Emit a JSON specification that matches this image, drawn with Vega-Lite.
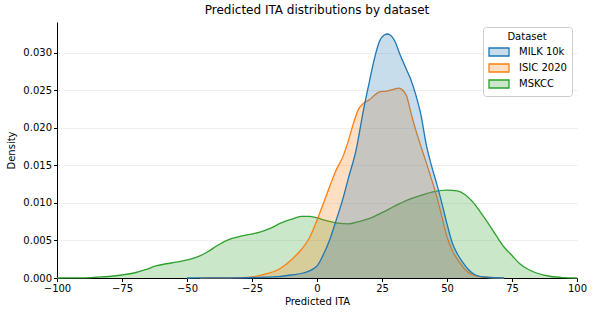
{
  "$schema": "https://vega.github.io/schema/vega-lite/v6.json",
  "autosize": {"type": "none"},
  "width": 520,
  "height": 256,
  "padding": {"left": 57, "top": 22, "right": 18, "bottom": 39},
  "background": "white",
  "title": {"text": "Predicted ITA distributions by dataset", "font": "DejaVu Sans", "fontSize": 12, "fontWeight": "normal", "color": "black", "offset": 5},
  "config": {
    "font": "DejaVu Sans",
    "view": {"stroke": null},
    "axis": {"labelFont": "DejaVu Sans", "labelFontSize": 10, "labelColor": "black", "titleFont": "DejaVu Sans", "titleFontSize": 10, "titleFontWeight": "normal", "titleColor": "black", "domainColor": "black", "tickColor": "black", "tickSize": 3.5, "labelPadding": 2, "domainWidth": 1, "tickWidth": 1, "labelFlush": false, "labelOverlap": false, "labelBound": false}
  },
  "data": {"values": [
    {"dataset": "MILK 10k", "ita": -50, "density": 0.0},
    {"dataset": "MILK 10k", "ita": -40, "density": 0.00001},
    {"dataset": "MILK 10k", "ita": -30, "density": 0.00003},
    {"dataset": "MILK 10k", "ita": -20, "density": 0.0001},
    {"dataset": "MILK 10k", "ita": -15, "density": 0.00018},
    {"dataset": "MILK 10k", "ita": -10, "density": 0.0004},
    {"dataset": "MILK 10k", "ita": -5, "density": 0.0007},
    {"dataset": "MILK 10k", "ita": 0, "density": 0.0016},
    {"dataset": "MILK 10k", "ita": 2, "density": 0.0028},
    {"dataset": "MILK 10k", "ita": 5, "density": 0.0052},
    {"dataset": "MILK 10k", "ita": 7, "density": 0.0073},
    {"dataset": "MILK 10k", "ita": 10, "density": 0.0106},
    {"dataset": "MILK 10k", "ita": 12, "density": 0.0132},
    {"dataset": "MILK 10k", "ita": 15, "density": 0.0170},
    {"dataset": "MILK 10k", "ita": 18, "density": 0.0226},
    {"dataset": "MILK 10k", "ita": 20, "density": 0.0259},
    {"dataset": "MILK 10k", "ita": 22, "density": 0.0291},
    {"dataset": "MILK 10k", "ita": 24, "density": 0.0315},
    {"dataset": "MILK 10k", "ita": 26, "density": 0.0324},
    {"dataset": "MILK 10k", "ita": 27, "density": 0.0325},
    {"dataset": "MILK 10k", "ita": 28, "density": 0.0324},
    {"dataset": "MILK 10k", "ita": 30, "density": 0.0315},
    {"dataset": "MILK 10k", "ita": 32, "density": 0.0297},
    {"dataset": "MILK 10k", "ita": 34, "density": 0.0281},
    {"dataset": "MILK 10k", "ita": 36, "density": 0.0265},
    {"dataset": "MILK 10k", "ita": 38, "density": 0.0244},
    {"dataset": "MILK 10k", "ita": 40, "density": 0.0217},
    {"dataset": "MILK 10k", "ita": 42, "density": 0.0178},
    {"dataset": "MILK 10k", "ita": 44, "density": 0.0150},
    {"dataset": "MILK 10k", "ita": 46, "density": 0.0126},
    {"dataset": "MILK 10k", "ita": 48, "density": 0.0100},
    {"dataset": "MILK 10k", "ita": 50, "density": 0.0072},
    {"dataset": "MILK 10k", "ita": 52, "density": 0.0047},
    {"dataset": "MILK 10k", "ita": 54, "density": 0.0032},
    {"dataset": "MILK 10k", "ita": 56, "density": 0.0021},
    {"dataset": "MILK 10k", "ita": 58, "density": 0.0012},
    {"dataset": "MILK 10k", "ita": 61, "density": 0.0004},
    {"dataset": "MILK 10k", "ita": 65, "density": 0.0001},
    {"dataset": "MILK 10k", "ita": 72, "density": 0.0},

    {"dataset": "ISIC 2020", "ita": -45, "density": 0.0},
    {"dataset": "ISIC 2020", "ita": -35, "density": 0.00002},
    {"dataset": "ISIC 2020", "ita": -30, "density": 0.00005},
    {"dataset": "ISIC 2020", "ita": -25, "density": 0.00015},
    {"dataset": "ISIC 2020", "ita": -20, "density": 0.0005},
    {"dataset": "ISIC 2020", "ita": -15, "density": 0.0011},
    {"dataset": "ISIC 2020", "ita": -12, "density": 0.0018},
    {"dataset": "ISIC 2020", "ita": -9, "density": 0.0027},
    {"dataset": "ISIC 2020", "ita": -6, "density": 0.0038},
    {"dataset": "ISIC 2020", "ita": -3, "density": 0.0053},
    {"dataset": "ISIC 2020", "ita": 0, "density": 0.0077},
    {"dataset": "ISIC 2020", "ita": 2.5, "density": 0.0100},
    {"dataset": "ISIC 2020", "ita": 5, "density": 0.0123},
    {"dataset": "ISIC 2020", "ita": 7, "density": 0.0141},
    {"dataset": "ISIC 2020", "ita": 10, "density": 0.0162},
    {"dataset": "ISIC 2020", "ita": 12, "density": 0.0182},
    {"dataset": "ISIC 2020", "ita": 14, "density": 0.0206},
    {"dataset": "ISIC 2020", "ita": 16, "density": 0.0225},
    {"dataset": "ISIC 2020", "ita": 18, "density": 0.0233},
    {"dataset": "ISIC 2020", "ita": 20, "density": 0.0237},
    {"dataset": "ISIC 2020", "ita": 22, "density": 0.0243},
    {"dataset": "ISIC 2020", "ita": 24, "density": 0.0248},
    {"dataset": "ISIC 2020", "ita": 27, "density": 0.0249},
    {"dataset": "ISIC 2020", "ita": 29, "density": 0.0251},
    {"dataset": "ISIC 2020", "ita": 31.5, "density": 0.0253},
    {"dataset": "ISIC 2020", "ita": 33, "density": 0.0250},
    {"dataset": "ISIC 2020", "ita": 34.5, "density": 0.0242},
    {"dataset": "ISIC 2020", "ita": 36, "density": 0.0222},
    {"dataset": "ISIC 2020", "ita": 38, "density": 0.0197},
    {"dataset": "ISIC 2020", "ita": 40, "density": 0.0175},
    {"dataset": "ISIC 2020", "ita": 42, "density": 0.0154},
    {"dataset": "ISIC 2020", "ita": 44, "density": 0.0132},
    {"dataset": "ISIC 2020", "ita": 46, "density": 0.0109},
    {"dataset": "ISIC 2020", "ita": 48, "density": 0.0082},
    {"dataset": "ISIC 2020", "ita": 50, "density": 0.0055},
    {"dataset": "ISIC 2020", "ita": 52, "density": 0.0037},
    {"dataset": "ISIC 2020", "ita": 55, "density": 0.0020},
    {"dataset": "ISIC 2020", "ita": 57, "density": 0.0011},
    {"dataset": "ISIC 2020", "ita": 60, "density": 0.0004},
    {"dataset": "ISIC 2020", "ita": 65, "density": 0.0001},
    {"dataset": "ISIC 2020", "ita": 72, "density": 0.0},

    {"dataset": "MSKCC", "ita": -100, "density": 0.0},
    {"dataset": "MSKCC", "ita": -90, "density": 0.00003},
    {"dataset": "MSKCC", "ita": -85, "density": 0.0001},
    {"dataset": "MSKCC", "ita": -80, "density": 0.0002},
    {"dataset": "MSKCC", "ita": -75, "density": 0.0004},
    {"dataset": "MSKCC", "ita": -70, "density": 0.0007},
    {"dataset": "MSKCC", "ita": -66, "density": 0.0011},
    {"dataset": "MSKCC", "ita": -62, "density": 0.0016},
    {"dataset": "MSKCC", "ita": -58, "density": 0.0019},
    {"dataset": "MSKCC", "ita": -54, "density": 0.0021},
    {"dataset": "MSKCC", "ita": -50, "density": 0.0024},
    {"dataset": "MSKCC", "ita": -46, "density": 0.0028},
    {"dataset": "MSKCC", "ita": -42, "density": 0.0035},
    {"dataset": "MSKCC", "ita": -38, "density": 0.0044},
    {"dataset": "MSKCC", "ita": -34, "density": 0.0051},
    {"dataset": "MSKCC", "ita": -30, "density": 0.0055},
    {"dataset": "MSKCC", "ita": -26, "density": 0.0058},
    {"dataset": "MSKCC", "ita": -22, "density": 0.0061},
    {"dataset": "MSKCC", "ita": -18, "density": 0.0066},
    {"dataset": "MSKCC", "ita": -14, "density": 0.0073},
    {"dataset": "MSKCC", "ita": -10, "density": 0.0078},
    {"dataset": "MSKCC", "ita": -6, "density": 0.0082},
    {"dataset": "MSKCC", "ita": -3, "density": 0.0082},
    {"dataset": "MSKCC", "ita": 0, "density": 0.0080},
    {"dataset": "MSKCC", "ita": 4, "density": 0.0076},
    {"dataset": "MSKCC", "ita": 8, "density": 0.0073},
    {"dataset": "MSKCC", "ita": 12, "density": 0.0072},
    {"dataset": "MSKCC", "ita": 16, "density": 0.0075},
    {"dataset": "MSKCC", "ita": 20, "density": 0.0079},
    {"dataset": "MSKCC", "ita": 25, "density": 0.0087},
    {"dataset": "MSKCC", "ita": 30, "density": 0.0096},
    {"dataset": "MSKCC", "ita": 35, "density": 0.0104},
    {"dataset": "MSKCC", "ita": 40, "density": 0.0110},
    {"dataset": "MSKCC", "ita": 45, "density": 0.0115},
    {"dataset": "MSKCC", "ita": 50, "density": 0.0117},
    {"dataset": "MSKCC", "ita": 54, "density": 0.0116},
    {"dataset": "MSKCC", "ita": 57, "density": 0.0111},
    {"dataset": "MSKCC", "ita": 60, "density": 0.0101},
    {"dataset": "MSKCC", "ita": 63, "density": 0.0087},
    {"dataset": "MSKCC", "ita": 66, "density": 0.0072},
    {"dataset": "MSKCC", "ita": 69, "density": 0.0056},
    {"dataset": "MSKCC", "ita": 72, "density": 0.0041},
    {"dataset": "MSKCC", "ita": 75, "density": 0.0030},
    {"dataset": "MSKCC", "ita": 78, "density": 0.0019},
    {"dataset": "MSKCC", "ita": 81, "density": 0.0012},
    {"dataset": "MSKCC", "ita": 85, "density": 0.0006},
    {"dataset": "MSKCC", "ita": 90, "density": 0.0002},
    {"dataset": "MSKCC", "ita": 95, "density": 0.00005},
    {"dataset": "MSKCC", "ita": 100, "density": 0.0}
  ]},
  "encoding": {
    "x": {"field": "ita", "type": "quantitative", "scale": {"domain": [-100, 100], "nice": false}, "title": "Predicted ITA", "axis": {"values": [-100, -75, -50, -25, 0, 25, 50, 75, 100], "grid": false, "titlePadding": 3}},
    "y": {"field": "density", "type": "quantitative", "stack": null, "scale": {"domain": [0, 0.0341], "nice": false}, "title": "Density", "axis": {"values": [0, 0.005, 0.01, 0.015, 0.02, 0.025, 0.03], "format": ".3f", "grid": true, "gridColor": "#ebebeb", "gridWidth": 0.8, "titlePadding": 6}},
    "color": {"field": "dataset", "type": "nominal", "scale": {"domain": ["MILK 10k", "ISIC 2020", "MSKCC"], "range": ["#1f77b4", "#ff7f0e", "#2ca02c"]},
      "legend": {"title": "Dataset", "orient": "top-right", "offset": 5, "strokeColor": "#cccccc", "fillColor": "white", "padding": 5, "cornerRadius": 3, "titleAnchor": "middle", "titleAlign": "center", "titleFontWeight": "normal", "titleFontSize": 10, "titleColor": "black", "titlePadding": 4, "labelFontSize": 10, "labelColor": "black", "symbolType": "M-1,-0.8H3V0.8H-1Z", "symbolSize": 100, "rowPadding": 2, "labelOffset": 19,
        "encode": {"symbols": {"update": {"fillOpacity": {"value": 0.25}, "stroke": {"scale": "color", "field": "value"}, "strokeWidth": {"value": 1.3}, "opacity": {"value": 1}}}}}}
  },
  "layer": [
    {"transform": [{"filter": "datum.dataset === 'MSKCC'"}], "mark": {"type": "area", "interpolate": "monotone", "fillOpacity": 0.25, "line": {"strokeWidth": 1.3}}},
    {"transform": [{"filter": "datum.dataset === 'ISIC 2020'"}], "mark": {"type": "area", "interpolate": "monotone", "fillOpacity": 0.25, "line": {"strokeWidth": 1.3}}},
    {"transform": [{"filter": "datum.dataset === 'MILK 10k'"}], "mark": {"type": "area", "interpolate": "monotone", "fillOpacity": 0.25, "line": {"strokeWidth": 1.3}}}
  ]
}
